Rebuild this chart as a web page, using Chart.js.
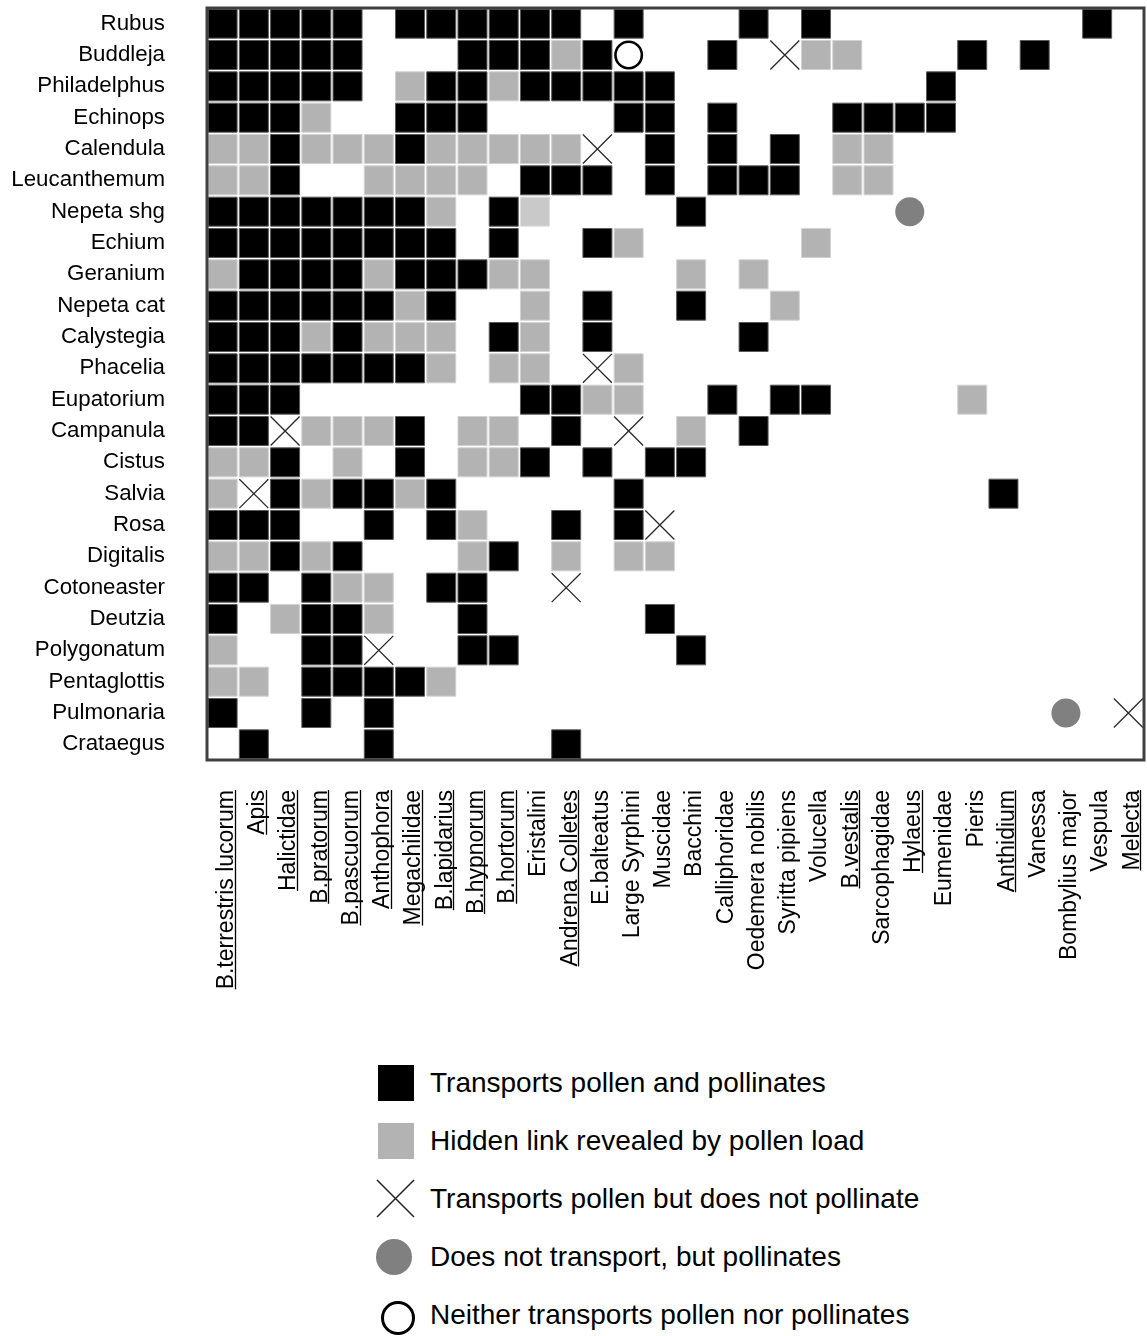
<!DOCTYPE html>
<html>
<head>
<meta charset="utf-8">
<script src="https://cdn.jsdelivr.net/npm/chart.js@4.4.1/dist/chart.umd.min.js"></script>
<style>
  html, body { margin: 0; padding: 0; background: #fff; }
  #wrap { position: relative; width: 1147px; height: 1336px; }
  #chartBox { position: absolute; left: 0; top: 0; width: 1147px; height: 1000px; }
  #legend { position: absolute; left: 375px; top: 1054px; }
  .lg-row { display: flex; align-items: center; height: 58px; }
  .lg-sym { width: 42px; height: 42px; margin-right: 13px; }
  .lg-text { font-family: 'Liberation Sans', Arial, sans-serif; font-size: 28px; color: #000; white-space: nowrap; }
</style>
</head>
<body>
<div id="wrap">
  <div id="chartBox"><canvas id="matrix"></canvas></div>
  <div id="legend"></div>
</div>
<script>
const plants = ['Rubus', 'Buddleja', 'Philadelphus', 'Echinops', 'Calendula', 'Leucanthemum',
  'Nepeta shg', 'Echium', 'Geranium', 'Nepeta cat', 'Calystegia', 'Phacelia', 'Eupatorium',
  'Campanula', 'Cistus', 'Salvia', 'Rosa', 'Digitalis', 'Cotoneaster', 'Deutzia',
  'Polygonatum', 'Pentaglottis', 'Pulmonaria', 'Crataegus'];

const insects = ['B.terrestris lucorum', 'Apis', 'Halictidae', 'B.pratorum', 'B.pascuorum',
  'Anthophora', 'Megachilidae', 'B.lapidarius', 'B.hypnorum', 'B.hortorum', 'Eristalini',
  'Andrena Colletes', 'E.balteatus', 'Large Syrphini', 'Muscidae', 'Bacchini', 'Calliphoridae',
  'Oedemera nobilis', 'Syritta pipiens', 'Volucella', 'B.vestalis', 'Sarcophagidae', 'Hylaeus',
  'Eumenidae', 'Pieris', 'Anthidium', 'Vanessa', 'Bombylius major', 'Vespula', 'Melecta'];

// bee taxa, underlined on the axis
const underlinedInsects = ['B.terrestris lucorum', 'Apis', 'Halictidae', 'B.pratorum',
  'B.pascuorum', 'Anthophora', 'Megachilidae', 'B.lapidarius', 'B.hypnorum', 'B.hortorum',
  'Andrena Colletes', 'B.vestalis', 'Hylaeus', 'Anthidium', 'Melecta'];

// one string per plant, one char per insect (same order as insects)
// B = transports pollen and pollinates, G = hidden link from pollen load (L = paler one)
// X = transports but does not pollinate, D = pollinates without transport, O = neither
const links = [
  'BBBBB.BBBBBB.B...B.B........B.',
  'BBBBB...BBBGBO..B.XGG...B.B...',
  'BBBBB.GBBGBBBBB........B......',
  'BBBG..BBB....BB.B...BBBB......',
  'GGBGGGBGGGGGX.B.B.B.GG........',
  'GGB..GGGG.BBB.B.BBB.GG........',
  'BBBBBBBG.BL....B......D.......',
  'BBBBBBBB.B..BG.....G..........',
  'GBBBBGBBBGG....G.G............',
  'BBBBBBGB..G.B..B..G...........',
  'BBBGBGGG.BG.B....B............',
  'BBBBBBBG.GG.XG................',
  'BBB.......BBGG..B.BB....G.....',
  'BBXGGGB.GG.B.X.G.B............',
  'GGB.G.B.GGB.B.BB..............',
  'GXBGBBGB.....B...........B....',
  'BBB..B.BG..B.BX...............',
  'GGBGB...GB.G.GG...............',
  'BB.BGG.BB..X..................',
  'B.GBBG..B.....B...............',
  'G..BBX..BB.....B..............',
  'GG.BBBBG......................',
  'B..B.B.....................D.X',
  '.B...B.....B..................'
];

const linkKinds = ['B', 'G', 'L', 'X', 'D', 'O'];
const legendKinds = ['B', 'G', 'X', 'D', 'O'];
const legendLabels = ['Transports pollen and pollinates', 'Hidden link revealed by pollen load',
  'Transports pollen but does not pollinate', 'Does not transport, but pollinates',
  'Neither transports pollen nor pollinates'];

const fontFamily = "'Liberation Sans', Arial, sans-serif";
const xFontSize = 23;
const xPadding = 30;
const xLabelOffset = 4;

const markerStyle = {
  B: { style: 'rect', r: 20.5, bg: '#000000', border: '#5a5a5a', bw: 1 },
  G: { style: 'rect', r: 20.5, bg: '#b3b3b3', border: '#d2d2d2', bw: 1 },
  L: { style: 'rect', r: 20.5, bg: '#c9c9c9', border: '#dedede', bw: 1 },
  X: { style: 'crossRot', r: 20.5, bg: '#2a2a2a', border: '#2a2a2a', bw: 1.3 },
  D: { style: 'circle', r: 14.5, bg: '#808080', border: '#808080', bw: 0 },
  O: { style: 'circle', r: 13.2, bg: '#ffffff', border: '#000000', bw: 2.6 }
};

const datasets = linkKinds.map(kind => {
  const pts = [];
  links.forEach((row, i) => {
    for (let j = 0; j < row.length; j++) {
      if (row[j] === kind) pts.push({ x: insects[j], y: plants[i] });
    }
  });
  const st = markerStyle[kind];
  return {
    label: kind,
    data: pts,
    showLine: false,
    pointStyle: st.style,
    pointRadius: st.r,
    pointHoverRadius: st.r,
    pointBackgroundColor: st.bg,
    pointBorderColor: st.border,
    pointBorderWidth: st.bw,
    pointHoverBorderWidth: st.bw
  };
});

// dark frame round the plot area
const framePlugin = {
  id: 'frame',
  afterDatasetsDraw(chart) {
    const { ctx, chartArea: a } = chart;
    ctx.save();
    ctx.strokeStyle = '#404040';
    ctx.lineWidth = 3;
    ctx.strokeRect(a.left, a.top, a.right - a.left, a.bottom - a.top);
    ctx.restore();
  }
};

// underline the bee names on the x axis
const underlinePlugin = {
  id: 'underline',
  afterDraw(chart) {
    const s = chart.scales.x;
    const ctx = chart.ctx;
    ctx.save();
    ctx.font = xFontSize + 'px ' + fontFamily;
    ctx.strokeStyle = '#000';
    ctx.lineWidth = 1.3;
    insects.forEach((name, i) => {
      if (!underlinedInsects.includes(name)) return;
      const x = Math.round(s.getPixelForTick(i) + xLabelOffset + 8) + 0.5;
      const y0 = s.top + xPadding;
      const w = ctx.measureText(name).width;
      ctx.beginPath();
      ctx.moveTo(x, y0);
      ctx.lineTo(x, y0 + w);
      ctx.stroke();
    });
    ctx.restore();
  }
};

// fixed axis sizes, no extra label padding
function fixSize(prop, size) {
  return scale => {
    scale[prop] = size;
    scale.paddingTop = 0;
    scale.paddingBottom = 0;
    scale.paddingLeft = 0;
    scale.paddingRight = 0;
  };
}

Chart.defaults.font.family = fontFamily;
Chart.defaults.color = '#000';

new Chart(document.getElementById('matrix'), {
  type: 'scatter',
  data: { datasets: datasets },
  options: {
    responsive: true,
    maintainAspectRatio: false,
    animation: false,
    events: [],
    layout: { autoPadding: false, padding: { top: 8, right: 3, left: 0, bottom: 0 } },
    plugins: {
      legend: { display: false },
      tooltip: { enabled: false }
    },
    scales: {
      x: {
        type: 'category',
        labels: insects,
        offset: true,
        grid: { display: false, drawTicks: false },
        border: { display: false },
        ticks: {
          autoSkip: false,
          minRotation: 90,
          maxRotation: 90,
          padding: xPadding,
          labelOffset: xLabelOffset,
          color: '#000',
          font: { size: xFontSize }
        },
        afterFit: fixSize('height', 240)
      },
      y: {
        type: 'category',
        labels: plants,
        offset: true,
        grid: { display: false, drawTicks: false },
        border: { display: false },
        ticks: {
          autoSkip: false,
          padding: 42,
          color: '#000',
          font: { size: 22.3 }
        },
        afterFit: fixSize('width', 207)
      }
    }
  },
  plugins: [framePlugin, underlinePlugin]
});

// legend below the chart
function legendSymbol(kind) {
  const open = '<svg class="lg-sym" viewBox="0 0 42 42" width="42" height="42">';
  switch (kind) {
    case 'B': return open + '<rect x="3" y="3" width="36" height="36" fill="#000"/></svg>';
    case 'G': return open + '<rect x="3" y="3" width="36" height="36" fill="#b3b3b3"/></svg>';
    case 'X': return open + '<path d="M2 2 L39 39 M39 2 L2 39" stroke="#222" stroke-width="1.5"/></svg>';
    case 'D': return open + '<circle cx="19" cy="21" r="18" fill="#808080"/></svg>';
    case 'O': return open + '<circle cx="23" cy="24" r="15.5" fill="#fff" stroke="#000" stroke-width="3"/></svg>';
  }
  return open + '</svg>';
}

const legendEl = document.getElementById('legend');
legendKinds.forEach((kind, i) => {
  const row = document.createElement('div');
  row.className = 'lg-row';
  row.innerHTML = legendSymbol(kind) + '<span class="lg-text"></span>';
  row.querySelector('.lg-text').textContent = legendLabels[i];
  legendEl.appendChild(row);
});
</script>
</body>
</html>
